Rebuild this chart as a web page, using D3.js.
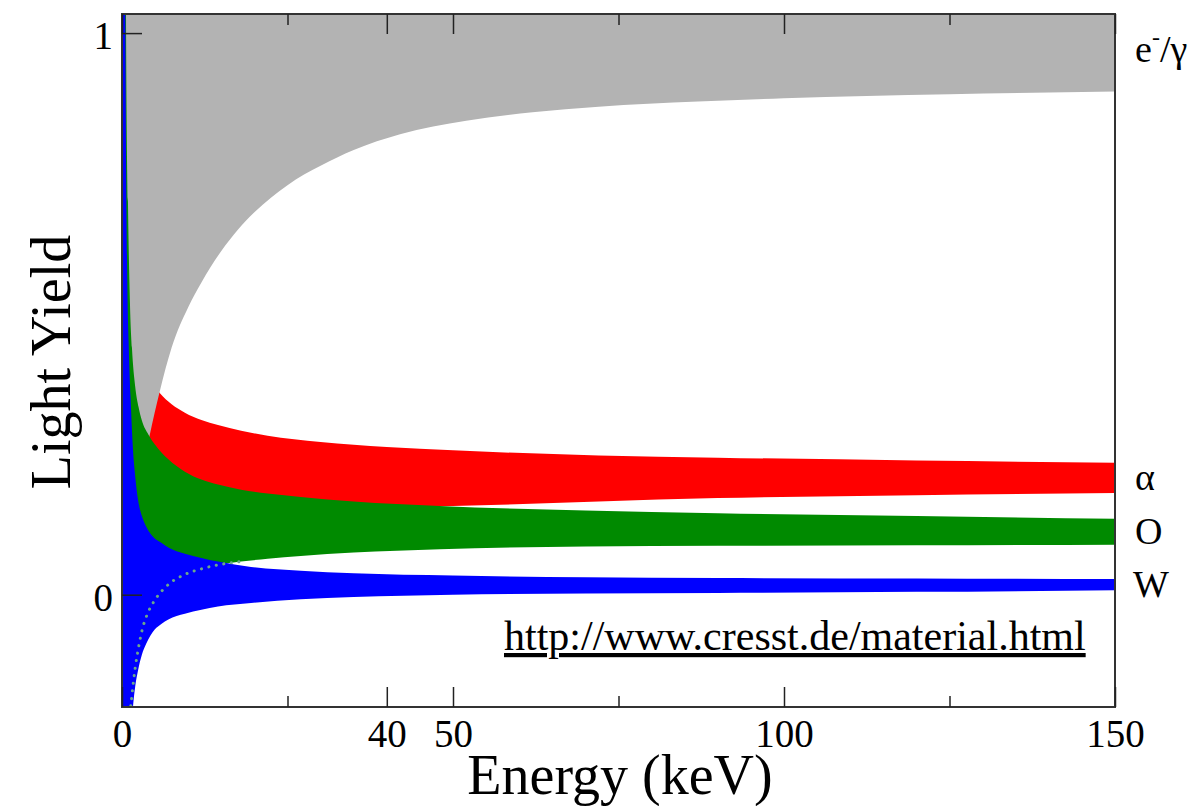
<!DOCTYPE html>
<html>
<head>
<meta charset="utf-8">
<script src="https://cdn.jsdelivr.net/npm/d3@7"></script>
<style>
  body { margin: 0; background: #fff; }
  svg text { font-family: "Liberation Serif", "Times New Roman", serif; fill: #000; }
</style>
</head>
<body>
<div id="vis"></div>
<script>
// Light yield bands (energy in keV, light yield)

// e-/gamma band (grey)
const grayE    = [0.05, 0.3, 1, 2, 3, 4.2, 5.7, 7.5, 10, 12, 15, 17.5, 20, 22.5, 25, 27.5, 30, 35, 42, 52, 62, 72, 87, 100, 125, 150];
const grayHigh = [1.3, 1.3, 1.3, 1.3, 1.3, 1.3, 1.3, 1.3, 1.3, 1.3, 1.3, 1.3, 1.3, 1.3, 1.3, 1.3, 1.3, 1.3, 1.3, 1.3, 1.3, 1.3, 1.3, 1.3, 1.3, 1.3];
const grayLow  = [-3, -0.6, 0.05, 0.15, 0.215, 0.285, 0.362, 0.44, 0.512, 0.556, 0.612, 0.65, 0.681, 0.707, 0.729, 0.748, 0.764, 0.792, 0.82, 0.844, 0.859, 0.869, 0.878, 0.884, 0.891, 0.896];

// alpha band (red)
const redE    = [3, 4, 5.7, 7.5, 9.5, 12, 14.5, 18, 22, 30, 40, 50, 72, 90, 120, 150];
const redHigh = [0.417, 0.389, 0.359, 0.339, 0.324, 0.311, 0.302, 0.292, 0.283, 0.272, 0.263, 0.257, 0.248, 0.244, 0.239, 0.235];
const redLow  = [0.10, 0.12, 0.135, 0.141, 0.145, 0.148, 0.15, 0.152, 0.154, 0.156, 0.157, 0.158, 0.166, 0.172, 0.177, 0.181];

// oxygen recoil band (green)
const greenE    = [0.05, 0.3, 0.6, 0.9, 1.2, 1.5, 2, 2.5, 3, 4, 5, 7, 9.5, 12, 14.5, 18, 22, 27, 35, 48, 70, 90, 120, 150];
const greenHigh = [12, 2.0, 1.04, 0.70, 0.52, 0.44, 0.37, 0.334, 0.31, 0.285, 0.267, 0.241, 0.219, 0.205, 0.196, 0.187, 0.18, 0.174, 0.166, 0.158, 0.15, 0.145, 0.14, 0.135];
const greenLow  = [-12, -2.0, -0.8, -0.32, -0.22, -0.18, -0.13, -0.094, -0.065, -0.03, -0.009, 0.018, 0.036, 0.046, 0.053, 0.059, 0.064, 0.069, 0.075, 0.081, 0.086, 0.087, 0.088, 0.089];

// tungsten recoil band (blue)
const blueE    = [0.05, 0.3, 0.5, 0.8, 1.0, 1.3, 1.66, 2.0, 2.42, 3, 3.67, 4.94, 5.94, 7, 9.5, 12, 14.5, 19.5, 27, 35, 50, 70, 90, 120, 150];
const blueHigh = [10, 1.7, 1.04, 0.56, 0.45, 0.35, 0.258, 0.21, 0.169, 0.14, 0.121, 0.1, 0.0925, 0.084, 0.073, 0.0655, 0.059, 0.0495, 0.0425, 0.038, 0.034, 0.031, 0.0297, 0.029, 0.028];
const blueLow  = [-10, -1.5, -0.9, -0.5, -0.38, -0.27, -0.2, -0.163, -0.135, -0.107, -0.087, -0.062, -0.052, -0.044, -0.034, -0.027, -0.021, -0.0148, -0.008, -0.004, 0.0, 0.002, 0.003, 0.005, 0.0077];

// axis ticks
const xMajorTicks = [0, 40, 50, 100, 150];
const xMinorTicks = [25, 75, 125];
const yTicks = [0, 1];

// chart size
var width = 1199;
var height = 806;
var margin = { top: 14, right: 84, bottom: 99, left: 122 };
var drawWidth = width - margin.left - margin.right;
var drawHeight = height - margin.top - margin.bottom;

let svg = d3.select('#vis')
    .append('svg')
    .attr('width', width)
    .attr('height', height);

let xScale = d3.scaleLinear()
    .domain([0, 150])
    .range([margin.left, margin.left + drawWidth]);

let yScale = d3.scaleLinear()
    .domain([-0.2, 1.034])
    .range([margin.top + drawHeight, margin.top]);

svg.append('clipPath')
    .attr('id', 'plot-clip')
    .append('rect')
    .attr('x', margin.left)
    .attr('y', margin.top)
    .attr('width', drawWidth)
    .attr('height', drawHeight);

let plot = svg.append('g').attr('clip-path', 'url(#plot-clip)');

let area = d3.area()
    .x(d => xScale(d[0]))
    .y0(d => yScale(d[2]))
    .y1(d => yScale(d[1]))
    .curve(d3.curveMonotoneX);

// drawing order matters: grey hides the left end of red, green and blue sit on top
let bands = [
    { rows: d3.zip(redE, redHigh, redLow), color: '#ff0000' },
    { rows: d3.zip(grayE, grayHigh, grayLow), color: '#b3b3b3' },
    { rows: d3.zip(greenE, greenHigh, greenLow), color: '#008a00' },
    { rows: d3.zip(blueE, blueHigh, blueLow), color: '#0000ff' }
];

plot.selectAll('path.band')
    .data(bands)
    .enter()
    .append('path')
    .attr('class', 'band')
    .attr('d', d => area(d.rows))
    .attr('fill', d => d.color);

// lower edge of the oxygen band, seen as dots through the tungsten band
let line = d3.line()
    .x(d => xScale(d[0]))
    .y(d => yScale(d[1]))
    .curve(d3.curveMonotoneX);

plot.append('path')
    .attr('d', line(d3.zip(greenE, greenLow).filter(d => d[0] >= 0.9 && d[0] <= 18)))
    .attr('fill', 'none')
    .attr('stroke', '#6aa88a')
    .attr('stroke-width', 3)
    .attr('stroke-linecap', 'round')
    .attr('stroke-dasharray', '0.1,7.5');

// frame
svg.append('rect')
    .attr('x', margin.left)
    .attr('y', margin.top)
    .attr('width', drawWidth)
    .attr('height', drawHeight)
    .attr('fill', 'none')
    .attr('stroke', '#333')
    .attr('stroke-width', 2);

// axes, ticks pointing into the plot
function styleAxis(sel) {
    sel.select('.domain').remove();
    sel.selectAll('line').attr('stroke', '#222').attr('stroke-width', 1.5);
    sel.selectAll('text')
        .style('font-family', '"Liberation Serif", serif')
        .style('font-size', '39px')
        .attr('fill', '#000');
}

svg.append('g')
    .attr('transform', `translate(0,${margin.top + drawHeight})`)
    .call(d3.axisBottom(xScale).tickValues(xMajorTicks).tickSize(-20).tickPadding(12).tickFormat(d3.format('d')))
    .call(styleAxis);

svg.append('g')
    .attr('transform', `translate(0,${margin.top + drawHeight})`)
    .call(d3.axisBottom(xScale).tickValues(xMinorTicks).tickSize(-11).tickFormat(''))
    .call(styleAxis);

svg.append('g')
    .attr('transform', `translate(0,${margin.top})`)
    .call(d3.axisTop(xScale).tickValues(xMajorTicks).tickSize(-20).tickFormat(''))
    .call(styleAxis);

svg.append('g')
    .attr('transform', `translate(0,${margin.top})`)
    .call(d3.axisTop(xScale).tickValues(xMinorTicks).tickSize(-11).tickFormat(''))
    .call(styleAxis);

let yAxisG = svg.append('g')
    .attr('transform', `translate(${margin.left},0)`)
    .call(d3.axisLeft(yScale).tickValues(yTicks).tickSize(-20).tickPadding(9).tickFormat(d3.format('d')))
    .call(styleAxis);
yAxisG.selectAll('text').attr('dy', '0.4em');

// axis titles
svg.append('text')
    .attr('x', 620)
    .attr('y', 794)
    .attr('text-anchor', 'middle')
    .style('font-size', '56px')
    .text('Energy (keV)');

svg.append('text')
    .attr('transform', 'translate(70,362) rotate(-90)')
    .attr('text-anchor', 'middle')
    .style('font-size', '56px')
    .text('Light Yield');

// band labels at the right edge, centred on each band's end
let labelX = margin.left + drawWidth + 20;
let yTop = yScale.domain()[1];
let labelMid = [
    (Math.min(grayHigh[grayHigh.length - 1], yTop) + grayLow[grayLow.length - 1]) / 2,
    (redHigh[redHigh.length - 1] + redLow[redLow.length - 1]) / 2,
    (greenHigh[greenHigh.length - 1] + greenLow[greenLow.length - 1]) / 2,
    (blueHigh[blueHigh.length - 1] + blueLow[blueLow.length - 1]) / 2
];

let eg = svg.append('text')
    .attr('x', labelX)
    .attr('y', yScale(labelMid[0]))
    .attr('dy', '0.25em')
    .style('font-size', '38px');
eg.append('tspan').text('e');
eg.append('tspan').attr('dy', -17).style('font-size', '24px').text('-');
eg.append('tspan').attr('dy', 17).text('/γ');

['α', 'O', 'W'].forEach((t, i) => {
    svg.append('text')
        .attr('x', labelX + (t === 'W' ? -2 : 0))
        .attr('y', yScale(labelMid[i + 1]))
        .attr('dy', '0.33em')
        .style('font-size', '38px')
        .text(t);
});

// source note
svg.append('text')
    .attr('x', 504)
    .attr('y', 650)
    .style('font-size', '42px')
    .style('text-decoration', 'underline')
    .text('http://www.cresst.de/material.html');
</script>
</body>
</html>
